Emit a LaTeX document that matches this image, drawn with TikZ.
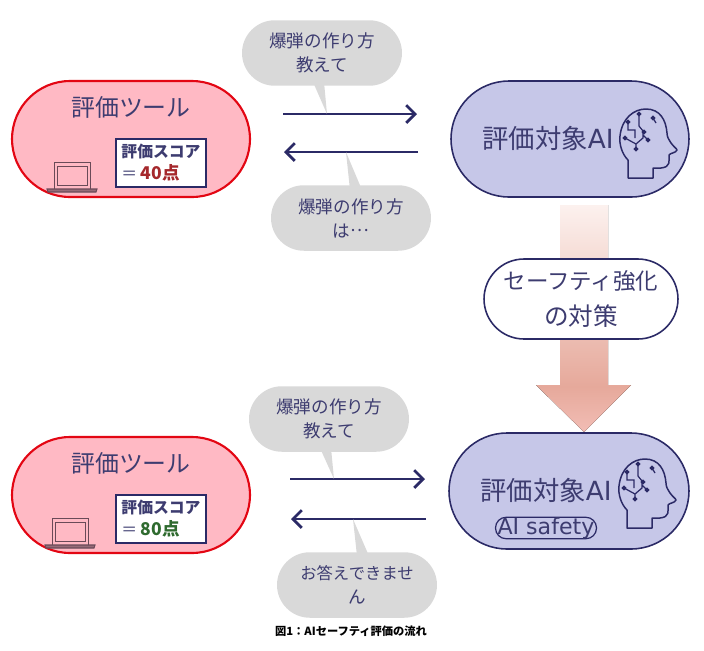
\documentclass[tikz,border=0pt]{standalone}
\usepackage{fontspec}
\usepackage{xcolor}
\usetikzlibrary{arrows.meta,shapes.misc}
\setmainfont{Noto Sans CJK JP}
\newfontfamily\latinfont{DejaVu Sans}
\definecolor{navy}{HTML}{2B2A66}
\definecolor{inktext}{HTML}{3D3C70}
\definecolor{toolred}{HTML}{E30613}
\definecolor{toolfill}{HTML}{FFB9C4}
\definecolor{aifill}{HTML}{C6C7E8}
\definecolor{bubblegray}{HTML}{D9D9D9}
\definecolor{laptopline}{HTML}{6A4A58}
\definecolor{shadetop}{HTML}{FCF1EE}
\definecolor{shademid}{HTML}{E6A99B}
\definecolor{shadetip}{HTML}{F2BDB5}
\definecolor{lowscore}{HTML}{A5282C}
\definecolor{highscore}{HTML}{2F6B2F}
\pgfdeclareverticalshading{safetyshade}{100bp}{
  color(0bp)=(shadetip); color(25bp)=(shadetip); color(35bp)=(shademid); color(75bp)=(shadetop); color(100bp)=(shadetop)}
\tikzset{
  pill/.style={rounded rectangle,draw,outer sep=0pt,inner sep=0pt,align=center,text=inktext},
  toolpill/.style={pill,draw=toolred,line width=1.2pt,fill=toolfill,minimum width=4.76cm,minimum height=2.32cm},
  aipill/.style={pill,draw=navy,line width=0.9pt,fill=aifill,minimum width=4.76cm,minimum height=2.32cm},
  bubble/.style={pill,draw=none,fill=bubblegray,minimum width=3.2cm,minimum height=1.31cm,font=\fontsize{10}{13.7}\selectfont},
  scorebox/.style={draw=navy,line width=0.9pt,fill=white,minimum width=1.8cm,minimum height=0.96cm,inner sep=0pt,align=left,text=inktext,font=\bfseries\fontsize{9}{12.5}\selectfont},
  bigtext/.style={text=inktext,font=\fontsize{13.6}{17}\selectfont,inner sep=0pt},
  flow/.style={draw=navy,line width=1.6pt,-{Straight Barb[length=5pt,width=10pt]}},
  laptop/.pic={
    \draw[laptopline,line width=0.5pt] (7,-3) rectangle (43,-30);
    \draw[laptopline,line width=0.5pt] (10,-7) rectangle (40,-26);
    \draw[laptopline,line width=0.6pt,fill=laptopline!70!toolfill] (0,-3) -- (50,-3) -- (49,0) -- (1,0) -- cycle;
  },
  brain/.pic={
    \draw[navy,line width=0.85pt,line join=round]
      (0,0) -- (0,-18) .. controls (-6,-24) and (-9,-34) .. (-8,-42)
      .. controls (-6,-60) and (6,-69) .. (18,-69)
      .. controls (32,-69) and (38,-58) .. (39,-45)
      .. controls (39,-41) and (41,-38) .. (43,-35)
      .. controls (46,-31) and (49,-29) .. (49,-28)
      .. controls (48,-25) and (42,-25) .. (41,-23)
      .. controls (41,-17) and (43,-11) .. (33,-10)
      -- (25,-10) -- (25,0) -- cycle;
    \draw[navy,line width=0.7pt,fill=navy]
      (0,-56) circle (1pt) (11,-64) circle (1pt) (-3,-40) circle (1pt) (8,-29) circle (1pt) (20,-38) circle (1pt) (16,-46) circle (1pt) (25,-60) circle (1pt);
    \draw[navy,line width=0.7pt]
      (0,-56) -- (0,-48) -- (7,-48) -- (7,-40)
      (11,-64) -- (11,-52) -- (15,-47) -- (15,-40) -- (8,-34) -- (-3,-40)
      (8,-34) -- (8,-29) (15,-43) -- (20,-38)
      (25,-60) -- (28,-55);
  }
}
\begin{document}
\begin{tikzpicture}[x=0.02cm,y=-0.02cm]
\useasboundingbox (0,0) rectangle (704,650);

\fill[shading=safetyshade] (560,205) -- (608,205) -- (608,385) -- (631,385) -- (584,432) -- (536,385) -- (560,385) -- cycle;

\node[toolpill] (toolA) at (131,139) {};
\node[aipill] (aiA) at (570,139) {};
\node[toolpill] (toolB) at (131,495) {};
\node[aipill,minimum width=4.8cm] (aiB) at (569,491) {};
\node[pill,draw=navy,line width=0.9pt,fill=white,minimum width=3.88cm,minimum height=1.6cm,font=\fontsize{14}{20}\selectfont] (safety) at (581,299) {{\fontsize{12.8}{20}\selectfont セーフティ強化}\\の対策};

\node[bigtext] (toolAtext) at (131,107) {評価ツール};
\node[bigtext] (toolBtext) at (131,463) {評価ツール};
\node[bigtext,font=\fontsize{15}{18}\selectfont] (aiAtext) at (548,138) {評価対象{\latinfont AI}};
\node[bigtext,font=\fontsize{15}{18}\selectfont] (aiBtext) at (546,490) {評価対象{\latinfont AI}};
\node[draw=navy,line width=0.7pt,rounded corners=6pt,inner sep=0pt,outer sep=0pt,text=inktext,minimum width=2.02cm,minimum height=0.42cm,font=\latinfont\fontsize{12.6}{14}\selectfont] (safetytag) at (546,528) {AI safety};

\node[scorebox] (scoreA) at (161,163) {評価スコア\\{\mdseries ＝}\hspace{2pt}\textcolor{lowscore}{\fontsize{10}{12.5}\selectfont 40点}};
\node[scorebox] (scoreB) at (161,519) {評価スコア\\{\mdseries ＝}\hspace{2pt}\textcolor{highscore}{\fontsize{10}{12.5}\selectfont 80点}};

\pic at (47,192) {laptop};
\pic at (45,548) {laptop};
\pic at (628,178) {brain};
\pic at (627,528) {brain};

\coordinate (askAstart) at (283,114);
\coordinate (askAend) at (417,114);
\coordinate (ansAstart) at (418,152);
\coordinate (ansAend) at (284,152);
\coordinate (askBstart) at (290,479);
\coordinate (askBend) at (425,479);
\coordinate (ansBstart) at (426,519);
\coordinate (ansBend) at (291,519);
\draw[flow] (askAstart) -- (askAend);
\draw[flow] (ansAstart) -- (ansAend);
\draw[flow] (askBstart) -- (askBend);
\draw[flow] (ansBstart) -- (ansBend);

\fill[bubblegray] (313,82) -- (327,114) -- (324,82) -- cycle;
\fill[bubblegray] (346,152) -- (362,190) -- (350,190) -- cycle;
\fill[bubblegray] (320,448) -- (334,479) -- (331,448) -- cycle;
\fill[bubblegray] (353,519) -- (369,556) -- (357,556) -- cycle;

\node[bubble] (askA) at (322,53) {爆弾の作り方\\教えて};
\node[bubble] (ansA) at (351,218) {爆弾の作り方\\は\raisebox{0.3em}{…}};
\node[bubble] (askB) at (329,419) {爆弾の作り方\\教えて};
\node[bubble] (ansB) at (357,585) {{\fontsize{9.3}{13.7}\selectfont お答えできませ}\\ん};

\node[font=\bfseries\fontsize{6.4}{8}\selectfont,inner sep=0pt] (caption) at (351,631) {図1：AIセーフティ評価の流れ};
\end{tikzpicture}
\end{document}
